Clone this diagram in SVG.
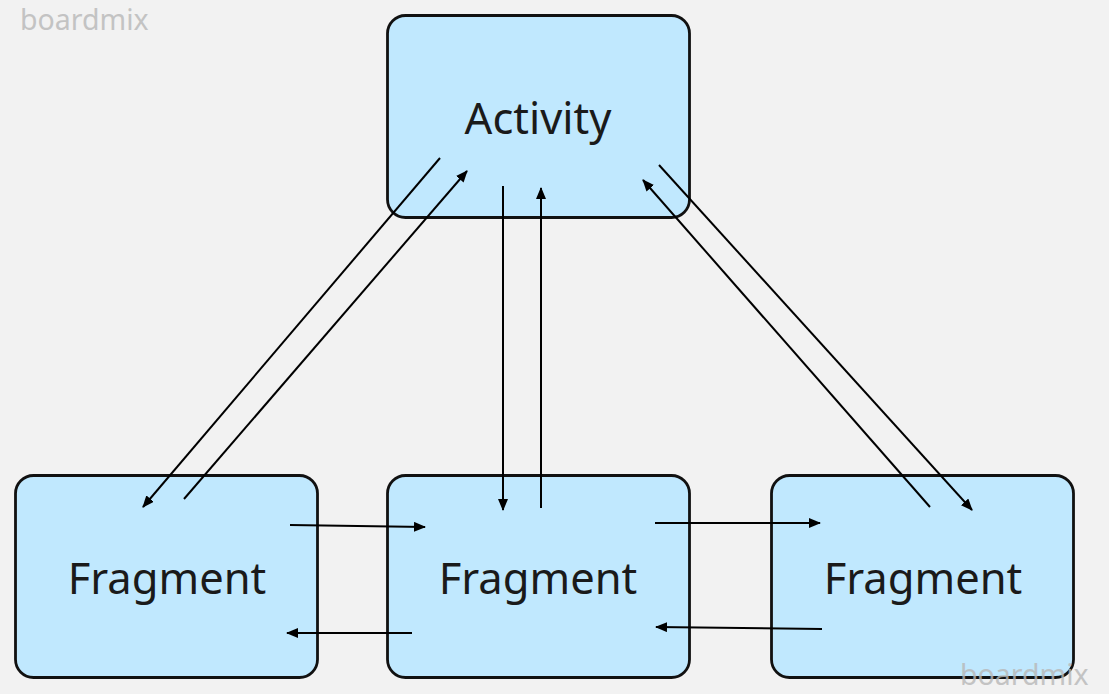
<svg xmlns="http://www.w3.org/2000/svg" width="1109" height="694" viewBox="0 0 1109 694">
<style>
.box{fill:#c0e8fe;stroke:#111;stroke-width:2.8}
.lbl{font-family:"Noto Sans","Open Sans",sans-serif;font-size:43.5px;fill:#1a1a1a;text-anchor:middle}
.wm{font-family:"Noto Sans","Open Sans",sans-serif;font-size:28.5px;fill:#b8b8b8;opacity:0.8}
.c{stroke:#000;stroke-width:2;fill:none;marker-end:url(#ah)}
</style>
<defs>
<marker id="ah" viewBox="0 0 12 10" refX="11" refY="5" markerWidth="12" markerHeight="10" markerUnits="userSpaceOnUse" orient="auto">
<path d="M0,0 L12,5 L0,10 z" fill="#000"/>
</marker>
</defs>
<rect width="1109" height="694" fill="#f2f2f2"/>
<text class="wm" x="20" y="30">boardmix</text>
<g id="activity"><rect class="box" x="387.5" y="15.5" width="302" height="202" rx="18"/><text class="lbl" x="538" y="134">Activity</text></g>
<g id="fragment-left"><rect class="box" x="15.5" y="475.5" width="302" height="202" rx="18"/><text class="lbl" x="167" y="594">Fragment</text></g>
<g id="fragment-mid"><rect class="box" x="387.5" y="475.5" width="302" height="202" rx="18"/><text class="lbl" x="538" y="594">Fragment</text></g>
<g id="fragment-right"><rect class="box" x="771.5" y="475.5" width="302" height="202" rx="18"/><text class="lbl" x="923" y="594">Fragment</text></g>
<g id="connectors">
<line class="c" x1="440" y1="158" x2="143" y2="507"/>
<line class="c" x1="184" y1="499" x2="467" y2="171"/>
<line class="c" x1="503" y1="186" x2="503" y2="510"/>
<line class="c" x1="541" y1="508" x2="541" y2="188"/>
<line class="c" x1="930" y1="507" x2="643" y2="180"/>
<line class="c" x1="659" y1="165" x2="972" y2="510"/>
<line class="c" x1="290" y1="525" x2="425" y2="527"/>
<line class="c" x1="412" y1="633" x2="287" y2="633"/>
<line class="c" x1="655" y1="523" x2="820" y2="523"/>
<line class="c" x1="822" y1="629" x2="656" y2="627"/>
</g>
<text class="wm" x="960" y="685">boardmix</text>
</svg>
